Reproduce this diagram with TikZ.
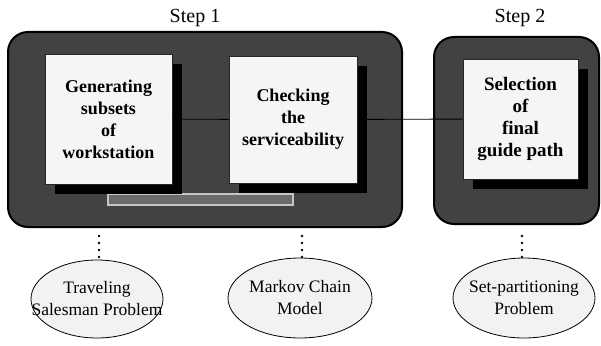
\documentclass[tikz,border=0pt]{standalone}
\usepackage{fontspec}
\setmainfont{Liberation Serif}
\usetikzlibrary{shapes.geometric,shadows}
\begin{document}
\begin{tikzpicture}[x=1pt,y=-1pt,
  stage/.style={draw=black, line width=2pt, fill=black!74, rounded corners=20pt,
    inner sep=0pt},
  steplabel/.style={font=\fontsize{20}{24}\selectfont},
  taskbox/.style={draw=black!85, line width=0.6pt, fill=black!4, inner sep=0pt,
    align=center, font=\bfseries\fontsize{18}{22}\selectfont,
    drop shadow={shadow xshift=10pt, shadow yshift=-10pt, fill=black, opacity=1}},
  model/.style={ellipse, draw=black, line width=0.8pt, fill=black!5, inner sep=0pt},
  modeltext/.style={align=center, inner sep=0pt, font=\fontsize{17.5}{22}\selectfont},
  link/.style={draw=black, line width=0.9pt},
  dots/.style={draw=black, line width=2.6pt, line cap=round,
    dash pattern=on 0pt off 7pt},
]
\useasboundingbox (0,0) rectangle (601,345);

% stage frames
\node[stage, minimum width=394, minimum height=195] (s1) at (205,129.5) {};
\node[stage, minimum width=165, minimum height=187] (s2) at (516.5,130.5) {};
\node[draw=gray!45, line width=1.2pt, fill=black!58, inner sep=0pt,
  minimum width=185, minimum height=11] (strip) at (200.5,199.5) {};

% stage titles
\node[steplabel] (t1) at (195,18) {Step 1};
\node[steplabel] (t2) at (520,18) {Step 2};

% tasks
\node[taskbox, minimum width=127, minimum height=130] (b1) at (108.5,119)
  {Generating\\subsets\\of\\workstation};
\node[taskbox, minimum width=128, minimum height=127] (b2) at (293,119.5)
  {Checking\\the\\serviceability};
\node[taskbox, minimum width=115, minimum height=120,
  font=\bfseries\fontsize{19}{22}\selectfont] (b3) at (520.5,119)
  {Selection\\of\\final\\guide path};

\draw[link] (b1) -- (b2);
\draw[link] (b2) -- (b3);

% solution models: outline and text
\node[model, minimum width=132, minimum height=78] (e1) at (97,299) {};
\node[model, minimum width=144, minimum height=80] (e2) at (300,298) {};
\node[model, minimum width=142, minimum height=80] (e3) at (524,298) {};
\node[modeltext] (e1t) at (e1) {Traveling\\Salesman Problem};
\node[modeltext] (e2t) at (e2) {Markov Chain\\Model};
\node[modeltext] (e3t) at (e3) {Set-partitioning\\Problem};

\coordinate (d1) at (99,236);
\coordinate (d2) at (302,236);
\coordinate (d3) at (522,236);
\draw[dots] (d1) -- (d1 |- e1.north);
\draw[dots] (d2) -- (d2 |- e2.north);
\draw[dots] (d3) -- (d3 |- e3.north);
\end{tikzpicture}
\end{document}
